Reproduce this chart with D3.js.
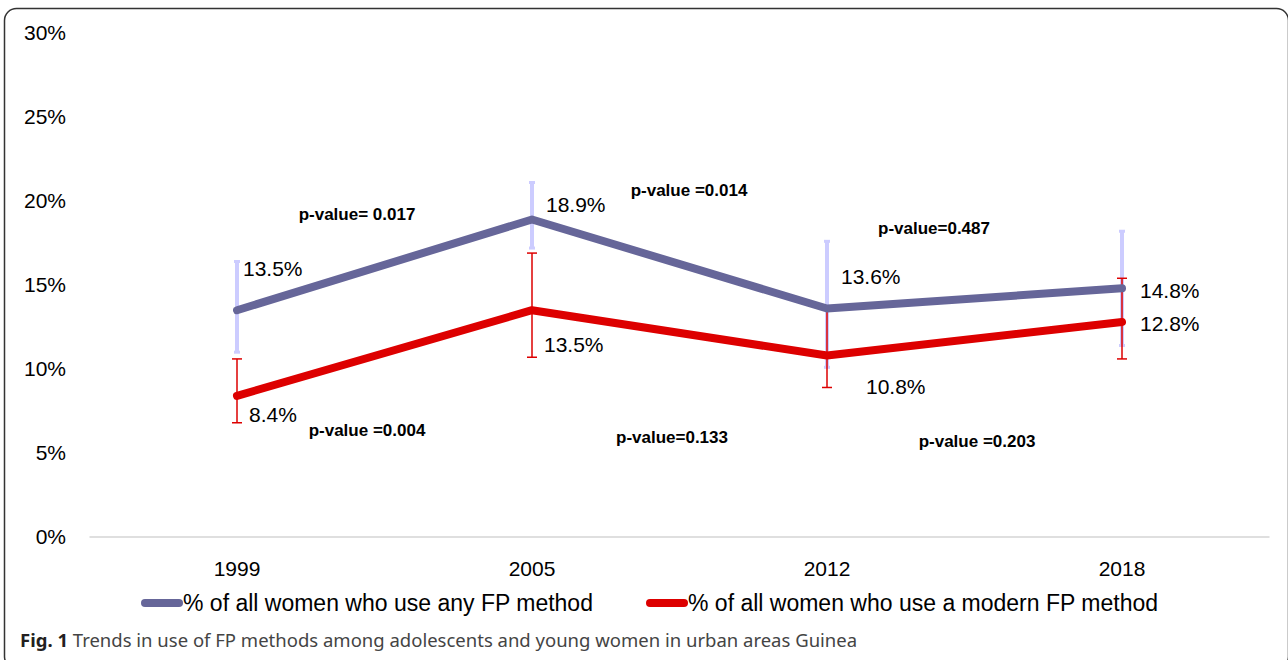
<!DOCTYPE html>
<html>
<head>
<meta charset="utf-8">
<script src="https://cdn.jsdelivr.net/npm/d3@7"></script>
<style>
  body { margin: 0; background: #fff; }
  svg { font-family: "Liberation Sans", "Noto Sans", sans-serif; }
</style>
</head>
<body>
<div id="chart"></div>
<script>
// Canvas size
var svgWidth = 1288;
var svgHeight = 660;

// Data
var years = ["1999", "2005", "2012", "2018"];
var anyMethod = [13.5, 18.9, 13.6, 14.8];
var anyLow = [11.0, 17.2, 10.1, 11.4];
var anyHigh = [16.4, 21.1, 17.6, 18.2];
var modernMethod = [8.4, 13.5, 10.8, 12.8];
var modernLow = [6.8, 10.7, 8.9, 10.6];
var modernHigh = [10.6, 16.9, 13.5, 15.4];
var yTicks = [0, 5, 10, 15, 20, 25, 30];
var seriesNames = ["% of all women who use any FP method", "% of all women who use a modern FP method"];
var pAny = ["p-value= 0.017", "p-value =0.014", "p-value=0.487"];
var pModern = ["p-value =0.004", "p-value=0.133", "p-value =0.203"];

var purple = "#666699";
var lavender = "#ccccff";
var red = "#dd0000";

var svg = d3.select("#chart").append("svg")
  .attr("width", svgWidth)
  .attr("height", svgHeight);

// outer frame
svg.append("rect")
  .attr("x", 4.5).attr("y", 8.5)
  .attr("width", 1284).attr("height", 660)
  .attr("rx", 12)
  .attr("fill", "none")
  .attr("stroke", "#333")
  .attr("stroke-width", 1.5);

// scales
var x = d3.scaleBand().domain(years).range([89.5, 1269.5]);
var y = d3.scaleLinear().domain([0, 30]).range([537, 33]);
var cx = d => x(d) + x.bandwidth() / 2;

// y axis labels
var yAxis = svg.append("g")
  .attr("transform", "translate(66,0)")
  .call(d3.axisLeft(y).tickValues(yTicks).tickFormat(d => d + "%").tickSize(0).tickPadding(0));
yAxis.select(".domain").remove();
yAxis.selectAll("text")
  .style("font-size", "21px")
  .style("font-family", "Liberation Sans, sans-serif")
  .attr("fill", "#000");

// baseline
svg.append("line")
  .attr("x1", 89.5).attr("x2", 1269.5)
  .attr("y1", y(0)).attr("y2", y(0))
  .attr("stroke", "#bfbfbf").attr("stroke-width", 1);

// x axis labels
var xAxis = svg.append("g")
  .attr("transform", "translate(0," + y(0) + ")")
  .call(d3.axisBottom(x).tickSize(0).tickPadding(24));
xAxis.select(".domain").remove();
xAxis.selectAll("text")
  .style("font-size", "21px")
  .style("font-family", "Liberation Sans, sans-serif")
  .attr("fill", "#000");

// error bars
function errorBars(low, high, color, width, cap) {
  var g = svg.append("g");
  years.forEach(function(yr, i) {
    g.append("line")
      .attr("x1", cx(yr)).attr("x2", cx(yr))
      .attr("y1", y(low[i])).attr("y2", y(high[i]))
      .attr("stroke", color).attr("stroke-width", width);
    [low[i], high[i]].forEach(function(v) {
      g.append("line")
        .attr("x1", cx(yr) - cap).attr("x2", cx(yr) + cap)
        .attr("y1", y(v)).attr("y2", y(v))
        .attr("stroke", color).attr("stroke-width", width > 2 ? 3 : 1.5);
    });
  });
}
errorBars(anyLow, anyHigh, lavender, 4, 3);
errorBars(modernLow, modernHigh, red, 1.5, 5);

// lines
var line = d3.line().x((d, i) => cx(years[i])).y(d => y(d));
svg.append("path").datum(anyMethod)
  .attr("d", line)
  .attr("fill", "none").attr("stroke", purple)
  .attr("stroke-width", 8).attr("stroke-linecap", "round").attr("stroke-linejoin", "round");
svg.append("path").datum(modernMethod)
  .attr("d", line)
  .attr("fill", "none").attr("stroke", red)
  .attr("stroke-width", 8).attr("stroke-linecap", "round").attr("stroke-linejoin", "round");

// value labels (offsets from each point)
var anyOff = [[6, -42], [14, -15], [14, -32], [18, 2]];
var modernOff = [[12, 19], [12, 34], [39, 31], [18, 2]];
function valueLabels(vals, off) {
  svg.append("g").selectAll("text")
    .data(vals).enter().append("text")
    .attr("x", (d, i) => cx(years[i]) + off[i][0])
    .attr("y", (d, i) => y(d) + off[i][1])
    .attr("dy", "0.35em")
    .style("font-size", "21px")
    .attr("fill", "#000")
    .text(d => d.toFixed(1) + "%");
}
valueLabels(anyMethod, anyOff);
valueLabels(modernMethod, modernOff);

// p-values between survey years
var pAnyPos = [[357, 214], [689, 190], [934, 228]];
var pModernPos = [[367, 430], [672, 437], [977, 441]];
function pLabels(texts, pos) {
  svg.append("g").selectAll("text")
    .data(texts).enter().append("text")
    .attr("x", (d, i) => pos[i][0])
    .attr("y", (d, i) => pos[i][1])
    .attr("dy", "0.35em")
    .attr("text-anchor", "middle")
    .style("font-size", "17px")
    .style("font-weight", "bold")
    .attr("fill", "#000")
    .text(d => d);
}
pLabels(pAny, pAnyPos);
pLabels(pModern, pModernPos);

// legend
var legendPos = [141, 646];
var legendColors = [purple, red];
seriesNames.forEach(function(name, i) {
  var lx = legendPos[i];
  svg.append("line")
    .attr("x1", lx + 4).attr("x2", lx + 38)
    .attr("y1", 603).attr("y2", 603)
    .attr("stroke", legendColors[i]).attr("stroke-width", 8).attr("stroke-linecap", "round");
  svg.append("text")
    .attr("x", lx + 42).attr("y", 603)
    .attr("dy", "0.35em")
    .style("font-size", "23px")
    .attr("fill", "#000")
    .text(name);
});

// caption
var caption = svg.append("text")
  .attr("x", 20).attr("y", 647)
  .style("font-size", "18.5px")
  .style("font-family", "Noto Sans, sans-serif")
  .attr("fill", "#231f20");
caption.append("tspan").style("font-weight", "bold").text("Fig. 1");
caption.append("tspan").style("fill", "#444").text(" Trends in use of FP methods among adolescents and young women in urban areas Guinea");
</script>
</body>
</html>
